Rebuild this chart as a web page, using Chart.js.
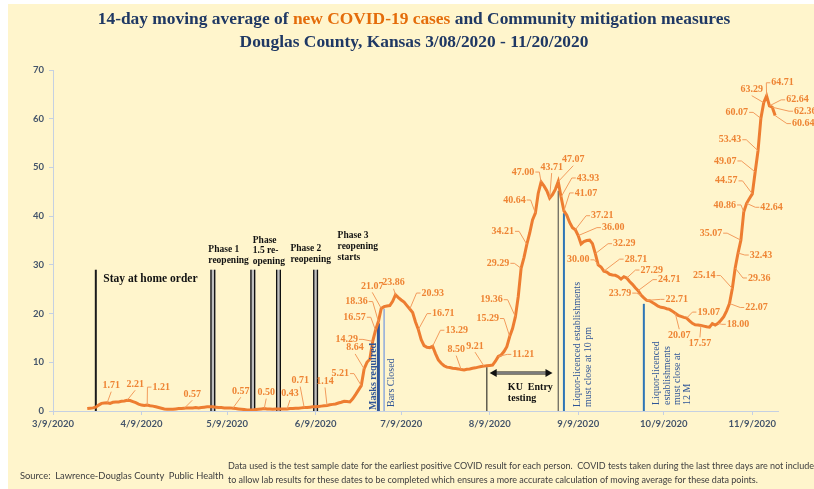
<!DOCTYPE html>
<html lang="en">
<head>
<meta charset="UTF-8">
<title>14-day moving average of new COVID-19 cases - Douglas County, Kansas</title>
<script src="https://cdn.jsdelivr.net/npm/chart.js"></script>
<style>
    html, body { margin: 0; padding: 0; background: #fff; }
    body { width: 814px; height: 489px; position: relative; overflow: hidden; }
    .panel { position: absolute; left: 8px; top: 4px; right: 0; bottom: 0; background: #FFF5CC; }
    #chartBox { position: absolute; left: 0; top: 0; width: 814px; height: 489px; }
    .title {
        position: absolute; left: 0; top: 7px; width: 828px; text-align: center;
        font-family: "Liberation Serif", serif; font-weight: bold; font-size: 17.4px; line-height: 23px;
        color: #1F3864;
    }
    .title .hl { color: #E46C0A; }
    .source { position: absolute; left: 20px; top: 470px; font: 9.4px Lato, sans-serif; color: #404040; white-space: nowrap; }
    .note { position: absolute; left: 228px; top: 459px; font: 9px/14px Lato, sans-serif; color: #404040; white-space: nowrap; }
</style>
</head>
<body>
<div class="panel"></div>
<div id="chartBox"><canvas id="casesChart" width="814" height="489"></canvas></div>
<div class="title">14-day moving average of <span class="hl">new COVID-19 cases</span> and Community mitigation measures<br>Douglas County, Kansas 3/08/2020 - 11/20/2020</div>
<div class="source">Source:&nbsp; Lawrence-Douglas County&nbsp; Public Health</div>
<div class="note">Data used is the test sample date for the earliest positive COVID result for each person.&nbsp; COVID tests taken during the last three days are not included<br>to allow lab results for these dates to be completed which ensures a more accurate calculation of moving average for these data points.</div>

<script>
// 14-day moving average, one value per day starting at firstDay
const firstDay = '3/21';
const movingAvg = [
    0.50, 0.57, 0.64, 0.79, 1.21, 1.57, 1.64, 1.71, 1.57, 1.79,      // 3/21
    1.86, 1.86, 2.00, 2.07, 2.21, 2.14, 1.93, 1.71, 1.43, 1.21,      // 3/31
    1.14, 1.21, 1.07, 1.00, 0.86, 0.71, 0.57, 0.43, 0.36, 0.36,      // 4/10
    0.36, 0.43, 0.50, 0.50, 0.57, 0.64, 0.64, 0.64, 0.71, 0.64,      // 4/20
    0.71, 0.79, 0.86, 0.86, 0.86, 0.79, 0.71, 0.71, 0.64, 0.64,      // 4/30
    0.64, 0.57, 0.50, 0.43, 0.36, 0.29, 0.21, 0.21, 0.21, 0.29,      // 5/10
    0.36, 0.43, 0.50, 0.43, 0.43, 0.36, 0.43, 0.43, 0.43, 0.43,      // 5/20
    0.43, 0.50, 0.50, 0.57, 0.57, 0.64, 0.71, 0.71, 0.79, 0.86,      // 5/30
    0.86, 0.93, 1.00, 1.07, 1.14, 1.29, 1.36, 1.43, 1.64, 1.79,      // 6/9
    2.00, 1.93, 1.86, 2.50, 3.36, 4.29, 5.21, 8.64, 10.00, 10.64,    // 6/19
    14.29, 16.57, 18.36, 21.07, 21.43, 21.57, 21.64, 22.50, 23.86, 23.29, // 6/29
    22.79, 22.36, 21.64, 20.93, 20.21, 18.29, 16.71, 14.64, 13.43, 13.07, // 7/9
    13.00, 13.29, 11.79, 10.50, 9.79, 9.29, 9.00, 8.93, 8.79, 8.71,  // 7/19
    8.64, 8.50, 8.43, 8.57, 8.64, 8.79, 8.86, 9.00, 9.14, 9.21,      // 7/29
    9.29, 9.36, 9.43, 10.21, 11.21, 11.50, 12.21, 13.21, 15.29, 16.93, // 8/8
    19.36, 23.50, 29.29, 31.50, 34.21, 36.50, 39.21, 40.64, 44.71, 47.00, // 8/18
    46.21, 45.21, 43.71, 44.43, 45.50, 47.07, 43.93, 41.07, 40.21, 38.71, // 8/28
    37.64, 37.21, 36.00, 34.29, 34.79, 35.00, 35.07, 34.36, 32.29, 30.00, // 9/7
    29.57, 28.71, 28.50, 28.07, 27.93, 27.86, 27.57, 27.07, 27.57, 27.29, // 9/17
    26.57, 26.00, 25.29, 24.71, 23.79, 23.21, 22.71, 22.64, 22.29, 21.93, // 9/27
    21.50, 21.29, 21.21, 21.00, 20.86, 20.50, 20.07, 19.64, 19.43, 19.21, // 10/7
    19.07, 18.50, 18.00, 17.71, 17.64, 17.57, 17.43, 17.29, 17.21, 17.93, // 10/17
    17.64, 18.00, 18.64, 19.36, 20.57, 22.07, 25.14, 29.36, 32.43, 35.07, // 10/27
    40.86, 42.64, 43.64, 44.57, 49.07, 53.43, 60.07, 63.29, 64.71, 62.64, // 11/6
    62.36, 60.64                                                          // 11/16
];
const tickLabels = ['3/9/2020', '4/9/2020', '5/9/2020', '6/9/2020', '7/9/2020',
                    '8/9/2020', '9/9/2020', '10/9/2020', '11/9/2020'];
const axisStart = '3/9';
const axisEnd = '11/18';

// days that carry a value label
const labelDates = ['3/28', '4/4', '4/11', '4/24', '5/11', '5/22', '5/30', '6/5', '6/13',
    '6/25', '6/26', '6/29', '6/30', '7/1', '7/2', '7/7', '7/12', '7/15', '7/20', '7/30',
    '8/7', '8/12', '8/16', '8/18', '8/20', '8/22', '8/25', '8/27', '8/30',
    '9/2', '9/3', '9/4', '9/8', '9/9', '9/15', '9/16', '9/18', '9/26', '9/30',
    '10/1', '10/3', '10/13', '10/17', '10/22', '10/28',
    '11/1', '11/2', '11/3', '11/4', '11/5', '11/6', '11/7', '11/9', '11/10', '11/11',
    '11/12', '11/13', '11/14', '11/15', '11/16', '11/17'];
// where each label sits relative to its point (px)
const labelOffsets = [[4, -17], [8, -16], [14, -18], [8, -14], [8, -17], [2, -16], [3, -15], [-4, -27], [-2, -24],
    [-21, -12], [-9, -21], [-26, -2], [-21, -13], [-22, -20], [-9, -22], [-2, -12], [23, -16], [25, -16], [24, -16], [-5, -20],
    [-9, -20], [25, -2], [-22, -18], [-24, -17], [-23, -5], [-24, -13], [-21, -13], [-18, -10], [2, -31],
    [15, -22], [27, -19], [22, -18], [27, -14], [35, -8], [29, -10], [-20, -5], [32, -12], [25, -8], [31, -11],
    [-21, -2], [30, -1], [4, 22], [22, -6], [-1, 18], [20, 1],
    [27, 4], [-28, -13], [24, 10], [23, 2], [-30, -7], [-19, -7], [25, 4], [-26, -13], [-30, -11], [-28, -11],
    [-24, -6], [-12, -13], [16, -13], [28, -6], [33, 4], [28, 8]];

// mitigation measures
const eventDates = ['3/24', '5/4', '5/18', '5/27', '6/9', '7/1', '7/3', '8/8', '9/2', '9/4', '10/2'];
const eventTops = [29, 29, 29, 29, 29, 18, 21, 9, 45.2, 40.6, 22];
const eventTexts = [
    ['Stay at home order'],
    ['Phase 1', 'reopening'],
    ['Phase', '1.5 re-', 'opening'],
    ['Phase 2', 'reopening'],
    ['Phase 3', 'reopening', 'starts'],
    ['Masks required'],
    ['Bars Closed'],
    ['KU  Entry', 'testing'],
    [],
    ['Liquor-licenced establishments', 'must close at 10 pm'],
    ['Liquor-licenced', 'establishments', 'must close at', '12 M']
];
const arrowDates = ['8/9', '8/31'];
const arrowLevel = 7.8;

const serif = '"Liberation Serif", serif';
const phaseFont = 'bold 9.5px ' + serif;
const eventStyles = [
    { kind: 'solid', color: '#1a1a1a', width: 2, font: 'bold 11.5px ' + serif, textColor: '#111', dx: [7.5], dy: [9.5] },
    { kind: 'double', font: phaseFont, textColor: '#111', dx: [-4.5, -4.5], dy: [-20, -9] },
    { kind: 'double', font: phaseFont, textColor: '#111', dx: [0, 0, 0], dy: [-29.5, -19, -8] },
    { kind: 'double', font: phaseFont, textColor: '#111', dx: [12, 12], dy: [-21, -10] },
    { kind: 'double', font: phaseFont, textColor: '#111', dx: [22, 22, 22], dy: [-34.5, -23, -12] },
    { kind: 'solid', color: '#2F5597', width: 3, vertical: true, font: 'bold 10px ' + serif, textColor: '#2F5597', dx: [-4.5], base: 1 },
    { kind: 'solid', color: '#8FAADC', width: 1.5, vertical: true, font: '10px ' + serif, textColor: '#2F5597', dx: [7], base: 4 },
    { kind: 'solid', color: '#111', width: 1, font: 'bold 10px ' + serif, textColor: '#111', dx: [21, 21], dy: [20.5, 31] },
    { kind: 'solid', color: '#404040', width: 1 },
    { kind: 'solid', color: '#2E75B6', width: 2, vertical: true, font: '10px ' + serif, textColor: '#2F5597', dx: [13, 24], base: 4 },
    { kind: 'solid', color: '#2E75B6', width: 2, vertical: true, font: '10px ' + serif, textColor: '#2F5597', dx: [12.5, 24, 34, 44], base: 6 }
];

function dayIndex(md) {
    const [m, d] = md.split('/').map(Number);
    return (Date.UTC(2020, m - 1, d) - Date.UTC(2020, 2, 9)) / 86400000;
}

const start = dayIndex(firstDay);
const points = movingAvg.map((v, i) => ({ x: start + i, y: v }));
const tickDays = tickLabels.map(t => dayIndex(t));

const eventPlugin = {
    id: 'events',
    beforeDatasetsDraw(chart) {
        const { ctx, scales: { x, y } } = chart;
        const bottom = y.getPixelForValue(0);
        eventDates.forEach((date, i) => {
            const st = eventStyles[i];
            const px = x.getPixelForValue(dayIndex(date));
            const top = y.getPixelForValue(eventTops[i]);
            ctx.save();
            if (st.kind === 'double') {
                ctx.fillStyle = '#BFBFBF';
                ctx.fillRect(px - 2.5, top, 5, bottom - top);
                ctx.fillStyle = '#111';
                ctx.fillRect(px - 2.5, top, 1.3, bottom - top);
                ctx.fillRect(px + 1.2, top, 1.3, bottom - top);
            } else {
                ctx.strokeStyle = st.color;
                ctx.lineWidth = st.width;
                ctx.beginPath();
                ctx.moveTo(px, top);
                ctx.lineTo(px, bottom);
                ctx.stroke();
            }
            ctx.restore();
        });
    },
    afterDatasetsDraw(chart) {
        const { ctx, scales: { x, y } } = chart;
        const bottom = y.getPixelForValue(0);

        // event texts
        eventDates.forEach((date, i) => {
            const st = eventStyles[i];
            const lines = eventTexts[i];
            if (!lines.length) return;
            const px = x.getPixelForValue(dayIndex(date));
            const top = y.getPixelForValue(eventTops[i]);
            ctx.save();
            ctx.font = st.font;
            ctx.fillStyle = st.textColor;
            ctx.textAlign = 'left';
            ctx.textBaseline = 'middle';
            lines.forEach((line, j) => {
                if (st.vertical) {
                    ctx.save();
                    ctx.translate(px + st.dx[j], bottom - st.base);
                    ctx.rotate(-Math.PI / 2);
                    ctx.fillText(line, 0, 0);
                    ctx.restore();
                } else {
                    ctx.fillText(line, px + st.dx[j], top + st.dy[j]);
                }
            });
            ctx.restore();
        });

        // KU entry testing arrow
        const ax1 = x.getPixelForValue(dayIndex(arrowDates[0]));
        const ax2 = x.getPixelForValue(dayIndex(arrowDates[1]));
        const ay = y.getPixelForValue(arrowLevel);
        ctx.save();
        ctx.strokeStyle = '#111';
        ctx.lineWidth = 3;
        ctx.beginPath(); ctx.moveTo(ax1 + 5, ay); ctx.lineTo(ax2 - 5, ay); ctx.stroke();
        ctx.strokeStyle = '#E8E8E8';
        ctx.lineWidth = 1;
        ctx.beginPath(); ctx.moveTo(ax1 + 6, ay); ctx.lineTo(ax2 - 6, ay); ctx.stroke();
        ctx.fillStyle = '#111';
        ctx.beginPath(); ctx.moveTo(ax1, ay); ctx.lineTo(ax1 + 7, ay - 4); ctx.lineTo(ax1 + 7, ay + 4); ctx.closePath(); ctx.fill();
        ctx.beginPath(); ctx.moveTo(ax2, ay); ctx.lineTo(ax2 - 7, ay - 4); ctx.lineTo(ax2 - 7, ay + 4); ctx.closePath(); ctx.fill();
        ctx.restore();

        // value labels with leader lines
        ctx.save();
        ctx.font = 'bold 10px ' + serif;
        ctx.textAlign = 'center';
        ctx.textBaseline = 'middle';
        labelDates.forEach((date, i) => {
            const idx = dayIndex(date) - start;
            const v = movingAvg[idx];
            const px = x.getPixelForValue(start + idx);
            const py = y.getPixelForValue(v);
            const [dx, dy] = labelOffsets[i];
            const cx = px + dx, cy = py + dy;
            const text = v.toFixed(2);
            const hw = ctx.measureText(text).width / 2 + 1;
            ctx.strokeStyle = '#F29B5C';
            ctx.lineWidth = 1;
            ctx.beginPath();
            if (Math.abs(dx) > hw + 3) {
                const s = Math.sign(dx);
                const ex = cx - s * hw;
                ctx.moveTo(ex, cy);
                ctx.lineTo(ex - s * 4, cy);
                ctx.lineTo(px, py);
            } else {
                const ey = cy - Math.sign(dy) * 6;
                if (Math.abs(ey - py) > 3) {
                    ctx.moveTo(cx, ey);
                    ctx.lineTo(px, py);
                }
            }
            ctx.stroke();
            ctx.fillStyle = '#EE8434';
            ctx.fillText(text, cx, cy);
        });
        ctx.restore();
    }
};

const axisColor = '#C5D0E2';
const tickFont = { family: 'Lato', size: 9.5, weight: 'bold' };

new Chart(document.getElementById('casesChart').getContext('2d'), {
    type: 'line',
    data: {
        datasets: [{
            label: '14-day moving average',
            data: points,
            borderColor: '#ED7D31',
            borderWidth: 3,
            pointRadius: 0,
            tension: 0,
            fill: false
        }]
    },
    options: {
        responsive: false,
        animation: false,
        layout: { padding: { left: 0, right: 36, top: 70, bottom: 48 } },
        plugins: { legend: { display: false }, tooltip: { enabled: false } },
        scales: {
            x: {
                type: 'linear',
                min: dayIndex(axisStart),
                max: dayIndex(axisEnd),
                afterBuildTicks: scale => { scale.ticks = tickDays.map(v => ({ value: v })); },
                afterFit: scale => { scale.height = 30; },
                grid: { drawOnChartArea: false, drawTicks: true, tickLength: 4, color: axisColor },
                border: { color: axisColor, width: 1 },
                ticks: {
                    autoSkip: false, maxRotation: 0, padding: 3,
                    color: '#44546A', font: tickFont,
                    callback: (value, index) => tickLabels[index]
                }
            },
            y: {
                min: 0,
                max: 70,
                afterFit: scale => { scale.width = 53; },
                grid: { drawOnChartArea: false, drawTicks: true, tickLength: 4, color: axisColor },
                border: { color: axisColor, width: 1 },
                ticks: { stepSize: 10, padding: 5, color: '#44546A', font: tickFont }
            }
        }
    },
    plugins: [eventPlugin]
});
</script>
</body>
</html>
